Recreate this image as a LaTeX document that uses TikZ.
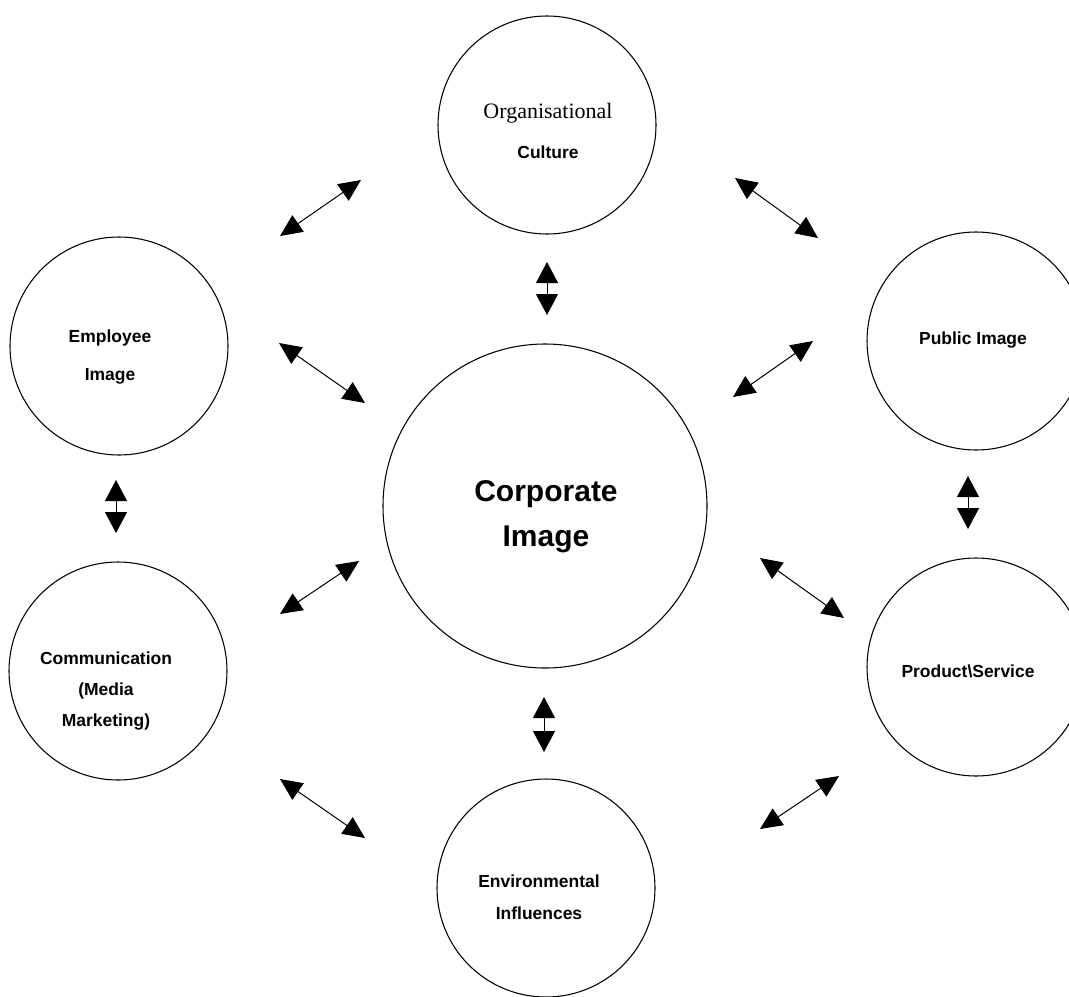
\documentclass[tikz,border=0pt]{standalone}
\usepackage{fontspec}
\setmainfont{Liberation Sans}
\newfontfamily\timesfont{Liberation Serif}
\usetikzlibrary{arrows.meta}
\begin{document}
\begin{tikzpicture}[x=0.75pt,y=-0.75pt,
  bubble/.style={circle, draw, line width=0.8pt, inner sep=0pt, minimum size=163.5pt},
  bigbubble/.style={bubble, minimum size=243pt},
  lbl/.style={align=center, font=\bfseries\fontsize{13.1pt}{28.5pt}\selectfont},
  link/.style={line width=0.75pt, {Triangle[length=16.5pt,width=15pt]}-{Triangle[length=16.5pt,width=15pt]}},
  vlink/.style={line width=0.75pt, {Triangle[length=15.75pt,width=16.5pt]}-{Triangle[length=15.75pt,width=16.5pt]}}]
\useasboundingbox[fill=white] (0,0) rectangle (1069,996);

% circles
\node[bubble] (org) at (547,125) {};
\node[bubble] (emp) at (119,346) {};
\node[bubble] (pub) at (976,341) {};
\node[bigbubble] (corp) at (545,506) {};
\node[bubble] (com) at (118,671) {};
\node[bubble] (prod) at (976,667) {};
\node[bubble] (env) at (546,888) {};

% labels
\node[lbl, font=\bfseries\fontsize{13.1pt}{30pt}\selectfont] (orgT) at (548,131)
  {{\mdseries\timesfont\fontsize{16.5pt}{30pt}\selectfont Organisational}\\Culture};
\node[lbl] (empT) at (110,357) {Employee\\Image};
\node[lbl] (pubT) at (973,340) {Public Image};
\node[lbl, font=\bfseries\fontsize{13.1pt}{23.3pt}\selectfont] (comT) at (106,691) {Communication\\(Media\\Marketing)};
\node[lbl] (prodT) at (968,671) {Product\textbackslash Service};
\node[lbl, font=\bfseries\fontsize{13.1pt}{24pt}\selectfont] (envT) at (539,897) {Environmental\\Influences};
\node[lbl, font=\bfseries\fontsize{22.5pt}{33.75pt}\selectfont] (corpT) at (546,517) {Corporate\\Image};

% arrow end points
\coordinate (a1s) at (280,236); \coordinate (a1e) at (361,180);
\coordinate (a2s) at (735,178); \coordinate (a2e) at (818,238);
\coordinate (a3s) at (279,343); \coordinate (a3e) at (365,403);
\coordinate (a4s) at (733,397); \coordinate (a4e) at (813,341);
\coordinate (a5s) at (280,614); \coordinate (a5e) at (359,561);
\coordinate (a6s) at (760,558); \coordinate (a6e) at (844,618);
\coordinate (a7s) at (280,779); \coordinate (a7e) at (365,838);
\coordinate (a8s) at (760,829); \coordinate (a8e) at (839,776);
\coordinate (v1s) at (547,262); \coordinate (v1e) at (547,315);
\coordinate (v2s) at (116,480); \coordinate (v2e) at (116,533);
\coordinate (v3s) at (968,476); \coordinate (v3e) at (968,529);
\coordinate (v4s) at (544,697); \coordinate (v4e) at (544,752);

\draw[link] (a1s) -- (a1e);
\draw[link] (a2s) -- (a2e);
\draw[link] (a3s) -- (a3e);
\draw[link] (a4s) -- (a4e);
\draw[link] (a5s) -- (a5e);
\draw[link] (a6s) -- (a6e);
\draw[link] (a7s) -- (a7e);
\draw[link] (a8s) -- (a8e);
\draw[vlink] (v1s) -- (v1e);
\draw[vlink] (v2s) -- (v2e);
\draw[vlink] (v3s) -- (v3e);
\draw[vlink] (v4s) -- (v4e);
\end{tikzpicture}
\end{document}
